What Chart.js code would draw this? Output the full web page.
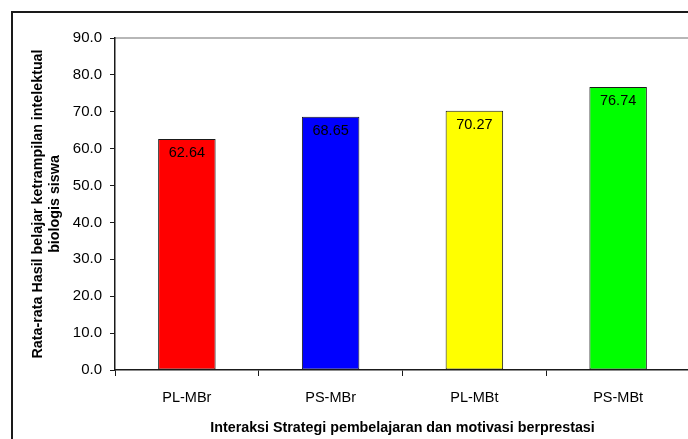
<!DOCTYPE html>
<html>
<head>
<meta charset="utf-8">
<script src="https://cdn.jsdelivr.net/npm/chart.js@4"></script>
<style>
    html, body { margin: 0; padding: 0; background: #fff; overflow: hidden; }
    canvas { display: block; }
</style>
</head>
<body>
<canvas id="chart" width="690" height="439"></canvas>
<script>
// data
const categories = ['PL-MBr', 'PS-MBr', 'PL-MBt', 'PS-MBt'];
const values = [62.64, 68.65, 70.27, 76.74];
const barColors = ['#ff0000', '#0000ff', '#ffff00', '#00ff00'];
const yMin = 0;
const yMax = 90;
const yStep = 10;
const yTitle = ['Rata-rata Hasil belajar ketrampilan intelektual', 'biologis siswa'];
const xTitle = 'Interaksi Strategi pembelajaran dan motivasi berprestasi';

const font = 'Arial, "Liberation Sans", sans-serif';

// outer frame + plot frame
const framePlugin = {
    id: 'frame',
    beforeDraw(chart){
        const c = chart.ctx;
        c.save();
        c.fillStyle = '#fff';
        c.fillRect(0, 0, chart.width, chart.height);
        c.strokeStyle = '#1a1a1a';
        c.lineWidth = 2;
        c.strokeRect(12, 12, chart.width + 20, chart.height + 20);
        const a = chart.chartArea;
        c.strokeStyle = '#a0a0a0';
        c.lineWidth = 1.5;
        c.beginPath();
        c.moveTo(a.left, a.top);
        c.lineTo(a.right, a.top);
        c.lineTo(a.right, a.bottom);
        c.stroke();
        c.restore();
    }
};

// value labels inside the bars
const valueLabels = {
    id: 'valueLabels',
    afterDatasetsDraw(chart){
        const c = chart.ctx;
        const meta = chart.getDatasetMeta(0);
        c.save();
        c.font = '14.5px ' + font;
        c.fillStyle = '#000';
        c.textAlign = 'center';
        c.textBaseline = 'middle';
        meta.data.forEach((bar, i) => {
            c.fillText(values[i].toFixed(2), bar.x, bar.y + 14);
        });
        c.restore();
    }
};

new Chart(document.getElementById('chart'), {
    type: 'bar',
    data: {
        labels: categories,
        datasets: [{
            data: values,
            backgroundColor: barColors,
            borderColor: '#1a1a1a',
            borderWidth: 1,
            borderSkipped: false,
            barPercentage: 0.4,
            categoryPercentage: 1
        }]
    },
    options: {
        responsive: false,
        animation: false,
        layout: { padding: { top: 38, left: 0, right: 0, bottom: 0 } },
        plugins: {
            legend: { display: false },
            tooltip: { enabled: false }
        },
        scales: {
            x: {
                grid: { drawOnChartArea: false, color: '#1a1a1a', tickLength: 6, offset: true },
                border: { color: '#1a1a1a', width: 1.5 },
                ticks: { color: '#000', font: { family: font, size: 14.5 }, padding: 13 },
                title: {
                    display: true,
                    text: xTitle,
                    color: '#000',
                    font: { family: font, size: 14.3, weight: 'bold' },
                    padding: { top: 0, bottom: 2 }
                },
                afterFit(scale){ scale.height = 69; }
            },
            y: {
                min: yMin,
                max: yMax,
                grid: { drawOnChartArea: false, color: '#1a1a1a', tickLength: 5 },
                border: { color: '#1a1a1a', width: 1.5 },
                ticks: {
                    stepSize: yStep,
                    color: '#000',
                    font: { family: font, size: 15 },
                    padding: 8,
                    callback: v => v.toFixed(1)
                },
                title: {
                    display: true,
                    text: yTitle,
                    color: '#000',
                    font: { family: font, size: 14.3, weight: 'bold' },
                    padding: { top: 29, bottom: 0 }
                },
                afterFit(scale){ scale.width = 115; }
            }
        }
    },
    plugins: [framePlugin, valueLabels]
});
</script>
</body>
</html>
